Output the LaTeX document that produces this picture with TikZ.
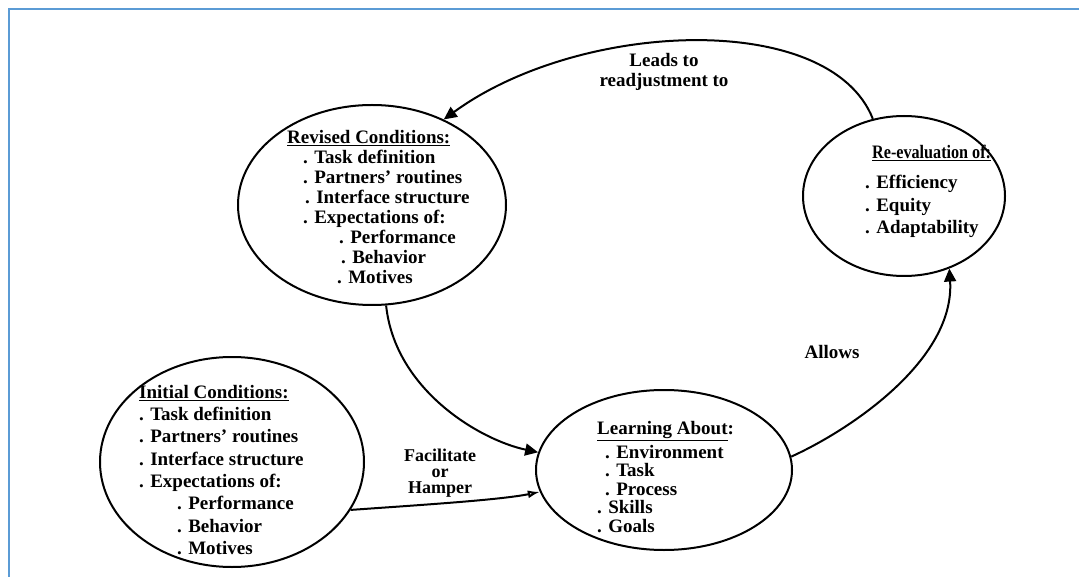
\documentclass[tikz,border=0pt]{standalone}
\usepackage{fontspec}
\setmainfont{Liberation Serif}
\usetikzlibrary{arrows.meta,shapes.geometric}
\definecolor{frameblue}{RGB}{91,155,213}
\begin{document}
\begin{tikzpicture}[x=1pt,y=-1pt,
  bubble/.style={draw,ellipse,line width=2pt,inner sep=0pt},
  blocktext/.style={inner sep=0pt,align=left,anchor=north west},
  tag/.style={inner sep=0pt,align=center},
  link/.style={line width=2pt,-{Triangle[length=13pt,width=12pt]}},
  openlink/.style={line width=2pt,-{Latex[open,length=12pt,width=8pt]}},
]
\useasboundingbox (0,0) rectangle (1079,577);

% open frame along the top and left edges
\draw[frameblue,line width=2.5pt] (1079,9) -- (9,9) -- (9,577);

% the four condition bubbles
\node[bubble,minimum width=268pt,minimum height=200pt] (revised) at (372,205) {};
\node[bubble,minimum width=264pt,minimum height=210pt] (initial) at (232,462) {};
\node[bubble,minimum width=256pt,minimum height=160pt] (learning) at (664,470) {};
\node[bubble,minimum width=202pt,minimum height=160pt] (reeval) at (904,196) {};

% bubble contents
\node[blocktext,font=\bfseries\fontsize{19}{20}\selectfont] (revisedtext) at (287,130) {%
\underline{Revised Conditions:}\\
\hspace*{16pt}. Task definition\\
\hspace*{16pt}. Partners' routines\\
\hspace*{18pt}. Interface structure\\
\hspace*{16pt}. Expectations of:\\
\hspace*{52pt}. Performance\\
\hspace*{54pt}. Behavior\\
\hspace*{50pt}. Motives};

\node[blocktext,font=\bfseries\fontsize{19}{22.3}\selectfont] (initialtext) at (139,385) {%
\underline{Initial Conditions:}\\
. Task definition\\
. Partners' routines\\
. Interface structure\\
. Expectations of:\\
\hspace*{38pt}. Performance\\
\hspace*{38pt}. Behavior\\
\hspace*{38pt}. Motives};

\node[blocktext,font=\bfseries\fontsize{19}{18.5}\selectfont] (learningtext) at (597,421) {%
\underline{Learning About}:\\[3.5pt]
\hspace*{8pt}. Environment\\
\hspace*{8pt}. Task\\
\hspace*{8pt}. Process\\
. Skills\\
. Goals};

\node[blocktext,font=\bfseries\fontsize{19}{22.5}\selectfont] (reevaltext) at (865,145) {%
\hspace*{7pt}{\addfontfeature{FakeStretch=0.85}\underline{Re-evaluation of:}}\\[7.5pt]
. Efficiency\\
. Equity\\
. Adaptability};

% connector labels
\node[tag,font=\bfseries\fontsize{19}{20}\selectfont] (leads) at (664,72) {Leads to\\readjustment to};
\node[tag,font=\bfseries\fontsize{19}{20}\selectfont] (allows) at (832,352) {Allows};
\node[tag,font=\bfseries\fontsize{18}{16}\selectfont] (facil) at (440,473) {Facilitate\\or\\Hamper};

% connectors
\draw[link] (reeval.112) .. controls (830,10) and (580,20) .. (revised.50);
\draw[link] (revised.-82) .. controls (395,390) and (480,440) .. (learning.172);
\draw[openlink] (initial.-22) .. controls (420,505) and (500,500) .. (learning.190);
\draw[link] (learning.6) .. controls (850,430) and (955,360) .. (reeval.-58);
\end{tikzpicture}
\end{document}
